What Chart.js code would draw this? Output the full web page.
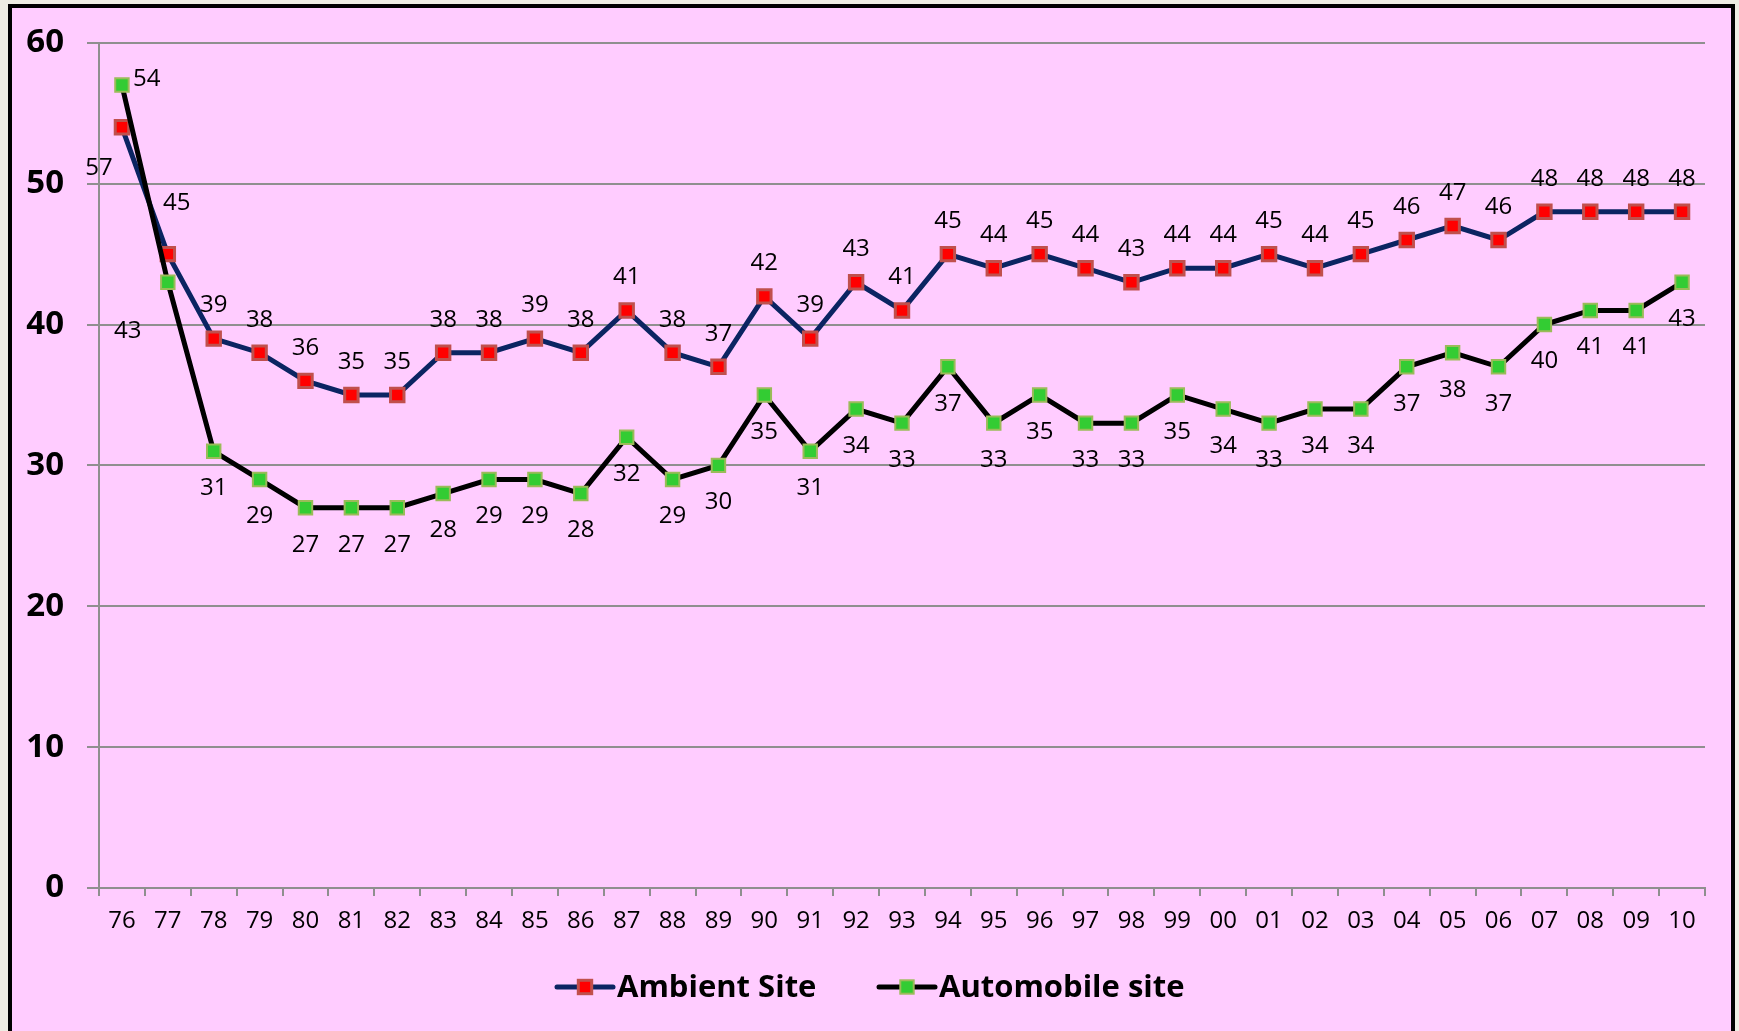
<!DOCTYPE html>
<html>
<head>
<meta charset="utf-8">
<script src="https://cdn.jsdelivr.net/npm/chart.js@4"></script>
<style>
  html, body { margin: 0; padding: 0; background: #eeede3; overflow: hidden; }
  #wrap { position: absolute; left: 0; top: 0; width: 1739px; height: 1031px; }
</style>
</head>
<body>
<div id="wrap"><canvas id="myChart"></canvas></div>
<script>
// data
const years = ['76','77','78','79','80','81','82','83','84','85','86','87','88','89','90','91','92','93','94','95','96','97','98','99','00','01','02','03','04','05','06','07','08','09','10'];
const ambientSite = [54,45,39,38,36,35,35,38,38,39,38,41,38,37,42,39,43,41,45,44,45,44,43,44,44,45,44,45,46,47,46,48,48,48,48];
const automobileSite = [57,43,31,29,27,27,27,28,29,29,28,32,29,30,35,31,34,33,37,33,35,33,33,35,34,33,34,34,37,38,37,40,41,41,43];
// the printed labels (first point is swapped in the original)
const ambientLabels = ['57','45','39','38','36','35','35','38','38','39','38','41','38','37','42','39','43','41','45','44','45','44','43','44','44','45','44','45','46','47','46','48','48','48','48'];
const automobileLabels = ['54','43','31','29','27','27','27','28','29','29','28','32','29','30','35','31','34','33','37','33','35','33','33','35','34','33','34','34','37','38','37','40','41','41','43'];
const yTicks = [0, 10, 20, 30, 40, 50, 60];

const FONT = '"Open Sans", Lato, sans-serif';
const navy = '#0b2462';
const gridGray = '#8f8f8f';

// pink frame with black border
const framePlugin = {
  id: 'frame',
  beforeDraw(chart) {
    const c = chart.ctx;
    c.save();
    c.fillStyle = '#eeede3';
    c.fillRect(0, 0, chart.width, chart.height);
    c.fillStyle = '#ffccff';
    c.fillRect(10, 6, 1723, 1040);
    c.strokeStyle = '#000';
    c.lineWidth = 4;
    c.strokeRect(10, 6, 1723, 1040);
    c.restore();
  }
};

// value labels next to the points
const labelPlugin = {
  id: 'pointLabels',
  afterDatasetsDraw(chart) {
    const c = chart.ctx;
    c.save();
    c.font = '24px ' + FONT;
    c.fillStyle = '#000';
    c.textBaseline = 'middle';
    chart.getDatasetMeta(0).data.forEach(function(pt, j) {
      var dx = 0, dy = -33;
      if (j == 0) { dx = -23; dy = 41; }
      if (j == 1) { dx = 9; dy = -51; }
      c.textAlign = 'center';
      c.fillText(ambientLabels[j], pt.x + dx, pt.y + dy);
    });
    chart.getDatasetMeta(1).data.forEach(function(pt, j) {
      var dx = 0, dy = 37;
      c.textAlign = 'center';
      if (j == 0) { dx = 11; dy = -6; c.textAlign = 'left'; }
      if (j == 1) { dx = -40; dy = 49; }
      c.fillText(automobileLabels[j], pt.x + dx, pt.y + dy);
    });
    c.restore();
  }
};

// legend: line + marker + bold text
const legendPlugin = {
  id: 'customLegend',
  afterDraw(chart) {
    const c = chart.ctx;
    const items = [
      { x: 557, text: 'Ambient Site', line: navy, fill: '#ff0000', border: '#c0504d', bw: 3 },
      { x: 879, text: 'Automobile site', line: '#000', fill: '#33cc33', border: '#9bbb59', bw: 2 }
    ];
    const y = 987;
    c.save();
    items.forEach(function(it) {
      c.strokeStyle = it.line;
      c.lineWidth = 5;
      c.lineCap = 'round';
      c.beginPath();
      c.moveTo(it.x, y);
      c.lineTo(it.x + 56, y);
      c.stroke();
      c.fillStyle = it.fill;
      c.fillRect(it.x + 28 - 6.7, y - 6.7, 13.4, 13.4);
      c.strokeStyle = it.border;
      c.lineWidth = it.bw;
      c.strokeRect(it.x + 28 - 6.7, y - 6.7, 13.4, 13.4);
      c.fillStyle = '#000';
      c.font = 'bold 31px ' + FONT;
      c.textAlign = 'left';
      c.textBaseline = 'middle';
      c.fillText(it.text, it.x + 60, y + 1);
    });
    c.restore();
  }
};

const ctx = document.getElementById('myChart');
new Chart(ctx, {
  type: 'line',
  data: {
    labels: years,
    datasets: [
      {
        label: 'Ambient Site',
        data: ambientSite,
        borderColor: navy,
        borderWidth: 5,
        pointStyle: 'rect',
        pointRadius: 9.5,
        pointBackgroundColor: '#ff0000',
        pointBorderColor: '#c0504d',
        pointBorderWidth: 3,
        tension: 0,
        order: 1
      },
      {
        label: 'Automobile site',
        data: automobileSite,
        borderColor: '#000000',
        borderWidth: 5,
        pointStyle: 'rect',
        pointRadius: 9.5,
        pointBackgroundColor: '#33cc33',
        pointBorderColor: '#9bbb59',
        pointBorderWidth: 2,
        tension: 0,
        order: 0
      }
    ]
  },
  options: {
    responsive: true,
    maintainAspectRatio: false,
    animation: false,
    devicePixelRatio: 1,
    layout: { padding: { top: 42, right: 34, left: 0, bottom: 0 } },
    plugins: {
      legend: { display: false },
      tooltip: { enabled: false }
    },
    scales: {
      x: {
        type: 'category',
        offset: true,
        afterFit: function(scale) { scale.height = 143; },
        grid: { drawOnChartArea: false, drawTicks: true, tickLength: 8, color: gridGray, lineWidth: 2, offset: true },
        border: { color: gridGray, width: 2 },
        ticks: { color: '#000', font: { family: FONT, size: 24 }, padding: 11, maxRotation: 0, autoSkip: false }
      },
      y: {
        min: yTicks[0],
        max: yTicks[yTicks.length - 1],
        afterFit: function(scale) { scale.width = 99; },
        afterBuildTicks: function(scale) { scale.ticks = yTicks.map(function(v) { return { value: v }; }); },
        grid: { color: gridGray, lineWidth: 2, tickLength: 12 },
        border: { color: gridGray, width: 2 },
        ticks: { color: '#000', font: { family: FONT, size: 33, weight: 'bold' }, padding: 23 }
      }
    }
  },
  plugins: [framePlugin, labelPlugin, legendPlugin]
});
</script>
</body>
</html>
